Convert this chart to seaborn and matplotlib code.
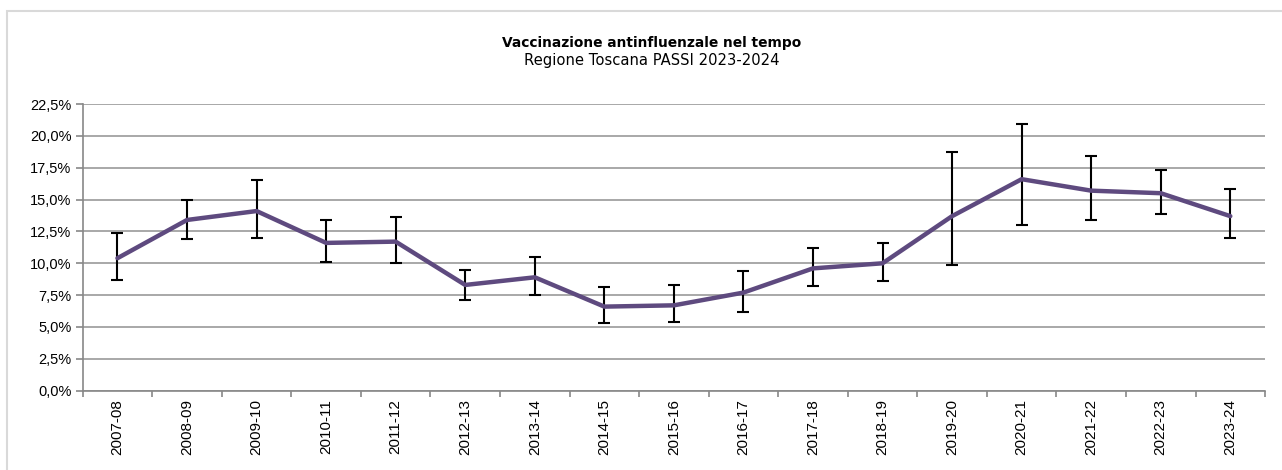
import pandas as pd
import seaborn as sns
import matplotlib.pyplot as plt
from matplotlib.patches import Rectangle
from matplotlib.ticker import FixedLocator, FuncFormatter

# Values (percent)
seasons = ['2007-08', '2008-09', '2009-10', '2010-11', '2011-12', '2012-13',
           '2013-14', '2014-15', '2015-16', '2016-17', '2017-18', '2018-19',
           '2019-20', '2020-21', '2021-22', '2022-23', '2023-24']
coverage = [10.4, 13.4, 14.1, 11.6, 11.7, 8.3, 8.9, 6.6, 6.7, 7.7, 9.6, 10.0,
            13.7, 16.6, 15.7, 15.5, 13.7]
ci_low = [8.7, 11.9, 12.0, 10.1, 10.0, 7.1, 7.5, 5.3, 5.4, 6.2, 8.2, 8.6,
          9.9, 13.0, 13.4, 13.9, 12.0]
ci_high = [12.4, 15.0, 16.5, 13.4, 13.6, 9.5, 10.5, 8.1, 8.3, 9.4, 11.2, 11.6,
           18.7, 20.9, 18.4, 17.3, 15.8]
yticks = [0, 2.5, 5, 7.5, 10, 12.5, 15, 17.5, 20, 22.5]

df = pd.DataFrame({'season': seasons, 'coverage': coverage,
                   'low': ci_low, 'high': ci_high})
df['pos'] = range(len(df))

sns.set_style('white')
plt.rcParams['font.family'] = ['Liberation Sans', 'DejaVu Sans']
plt.rcParams['text.color'] = 'black'
plt.rcParams['xtick.labelcolor'] = 'black'
plt.rcParams['ytick.labelcolor'] = 'black'

fig = plt.figure(figsize=(12.82, 4.70), dpi=100)
ax = fig.add_axes([0.0645, 0.1687, 0.9223, 0.61])

# light frame around the chart area
fig.patches.append(Rectangle((7 / 1282, -0.1), 1.2, (470 - 11) / 470 + 0.1,
                             transform=fig.transFigure, fill=False,
                             edgecolor='#d9d9d9', linewidth=1.5))

ax.errorbar(df['pos'], df['coverage'],
            yerr=[df['coverage'] - df['low'], df['high'] - df['coverage']],
            fmt='none', ecolor='black', elinewidth=1.5, capsize=4.5,
            capthick=1.5, zorder=3)
sns.lineplot(data=df, x='pos', y='coverage', color='#5e4a7f', linewidth=3.2,
             ax=ax, zorder=4)

ax.set_xlim(-0.5, len(seasons) - 0.5)
ax.set_ylim(0, 22.5)
ax.set_yticks(yticks)
ax.yaxis.set_major_formatter(FuncFormatter(lambda v, _: f'{v:.1f}%'.replace('.', ',')))
ax.yaxis.grid(True, color='#999999', linewidth=1.2)
ax.set_axisbelow(True)

ax.set_xticks(df['pos'])
ax.set_xticklabels(seasons, rotation=90)
ax.xaxis.set_minor_locator(FixedLocator([i - 0.5 for i in range(len(seasons) + 1)]))
ax.tick_params(axis='x', which='major', length=0, labelsize=11, pad=6)
ax.tick_params(axis='x', which='minor', length=4, color='#888888', width=1.2, bottom=True)
ax.tick_params(axis='y', length=5, color='#888888', width=1.2, labelsize=10.5, left=True, pad=3)
ax.set_xlabel('')
ax.set_ylabel('')

for side in ['top', 'right']:
    ax.spines[side].set_visible(False)
for side in ['left', 'bottom']:
    ax.spines[side].set_color('#888888')
    ax.spines[side].set_linewidth(1.2)

fig.text(0.508, 1 - 43 / 470, 'Vaccinazione antinfluenzale nel tempo',
         ha='center', va='center', fontsize=9.9, fontweight='bold',
         color='black', family=['DejaVu Sans'])
fig.text(0.508, 1 - 61 / 470, 'Regione Toscana PASSI 2023-2024',
         ha='center', va='center', fontsize=10.6, color='black',
         family=['DejaVu Sans'])

fig.savefig('out.png', dpi=100)
plt.close(fig)
